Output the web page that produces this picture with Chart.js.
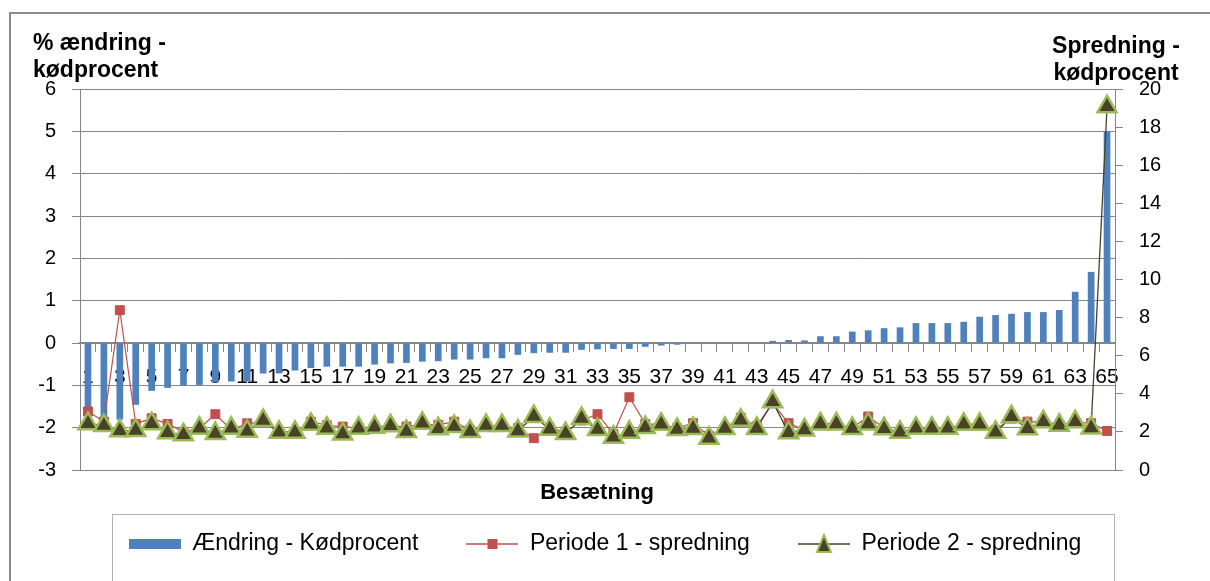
<!DOCTYPE html>
<html>
<head>
<meta charset="utf-8">
<script src="https://cdn.jsdelivr.net/npm/chart.js@4/dist/chart.umd.min.js"></script>
<style>
  html,body{margin:0;padding:0;background:#fff;}
  #wrap{position:relative;width:1210px;height:581px;overflow:hidden;font-family:"Liberation Sans",Arial,sans-serif;}
  #cv{position:absolute;left:0;top:0;}
  .frame{position:absolute;left:9px;top:12px;width:1220px;height:600px;border-left:2px solid #8a8a8a;border-top:2px solid #8a8a8a;}
  .legbox{position:absolute;left:112px;top:514px;width:1001px;height:90px;border:1px solid #b0b0b0;}
  .ttl{position:absolute;font-weight:bold;font-size:23px;line-height:27px;color:#000;}
  #tl{left:33px;top:29px;}
  #tr{left:1041px;top:32px;width:150px;text-align:center;}
  #xt{left:497px;top:478px;width:200px;text-align:center;font-size:22px;}
</style>
</head>
<body>
<div id="wrap">
  <div class="frame"></div>
  <div class="legbox"></div>
  <canvas id="cv" width="1210" height="581"></canvas>
  <div class="ttl" id="tl">% ændring -<br>kødprocent</div>
  <div class="ttl" id="tr">Spredning -<br>kødprocent</div>
  <div class="ttl" id="xt">Besætning</div>
</div>
<script>
// categories: besætning 1..65
const herds=[1,2,3,4,5,6,7,8,9,10,11,12,13,14,15,16,17,18,19,20,21,22,23,24,25,26,27,28,29,30,31,32,33,34,35,36,37,38,39,40,41,42,43,44,45,46,47,48,49,50,51,52,53,54,55,56,57,58,59,60,61,62,63,64,65];

// % ændring i kødprocent (left axis)
const change=[-1.6,-1.78,-1.81,-1.46,-1.13,-1.06,-1.01,-0.99,-0.93,-0.91,-0.91,-0.72,-0.72,-0.65,-0.59,-0.56,-0.56,-0.56,-0.51,-0.48,
  -0.47,-0.44,-0.43,-0.39,-0.39,-0.36,-0.36,-0.28,-0.24,-0.23,-0.23,-0.16,-0.15,-0.14,-0.14,-0.09,-0.06,-0.04,0,0,
  0,0,0,0.05,0.07,0.06,0.16,0.16,0.27,0.3,0.35,0.37,0.47,0.47,0.47,0.5,0.62,0.66,0.69,0.73,
  0.73,0.78,1.21,1.68,5.0];

// spredning (right axis)
const period1=[3.07,2.54,8.39,2.42,2.72,2.42,2.0,2.2,2.93,2.1,2.45,2.5,2.0,2.0,2.54,2.35,2.28,2.2,2.2,2.3,
  2.28,2.4,2.37,2.54,2.1,2.3,2.3,2.2,1.67,2.2,2.0,2.6,2.93,1.9,3.82,2.42,2.4,2.2,2.46,1.8,
  2.2,2.75,2.3,3.5,2.46,2.1,2.4,2.4,2.2,2.81,2.2,2.0,2.2,2.2,2.2,2.4,2.4,2.1,2.7,2.54,
  2.5,2.35,2.5,2.46,2.05];
const period2=[2.43,2.33,2.06,2.08,2.43,1.96,1.85,2.19,1.91,2.19,2.03,2.6,1.98,1.98,2.4,2.19,1.89,2.19,2.25,2.32,
  2.02,2.45,2.16,2.28,2.02,2.33,2.33,2.05,2.81,2.14,1.91,2.7,2.12,1.72,1.98,2.23,2.4,2.12,2.18,1.67,
  2.18,2.61,2.18,3.58,1.96,2.1,2.42,2.42,2.18,2.42,2.16,1.98,2.19,2.19,2.19,2.4,2.4,1.98,2.79,2.17,
  2.53,2.35,2.53,2.21,19.07];

const seriesNames=['Ændring - Kødprocent','Periode 1 - spredning','Periode 2 - spredning'];

const BLUE='#4F81BD', RED='#C0504D', OLIVE='#4A4228', GREENB='#9BBB59', LINE2='#45412a', GRID='#868686';
const FONT='"Liberation Sans", Arial, sans-serif';

// legend swatches (line + marker like the office legend)
function swatch(kind){
  const c=document.createElement('canvas');
  c.width=52; c.height=22;
  const g=c.getContext('2d');
  if(kind===0){g.fillStyle=BLUE;g.fillRect(0,6,52,10);}
  else if(kind===1){
    g.strokeStyle=RED;g.lineWidth=1.3;g.beginPath();g.moveTo(0,11);g.lineTo(52,11);g.stroke();
    g.fillStyle=RED;g.fillRect(21,6,10,10);
  } else {
    g.strokeStyle=LINE2;g.lineWidth=1.3;g.beginPath();g.moveTo(0,11);g.lineTo(52,11);g.stroke();
    g.fillStyle=OLIVE;g.strokeStyle=GREENB;g.lineWidth=2;
    g.beginPath();g.moveTo(26,2);g.lineTo(33,19);g.lineTo(19,19);g.closePath();g.fill();g.stroke();
  }
  return c;
}

new Chart(document.getElementById('cv'),{
  data:{
    labels:herds,
    datasets:[
      {type:'bar',label:seriesNames[0],data:change,yAxisID:'y',backgroundColor:BLUE,
        barPercentage:0.42,categoryPercentage:1,order:3},
      {type:'line',label:seriesNames[1],data:period1,yAxisID:'y1',borderColor:RED,borderWidth:1.2,
        pointStyle:'rect',pointRadius:6.3,pointBackgroundColor:RED,pointBorderColor:RED,pointBorderWidth:1,tension:0,order:2},
      {type:'line',label:seriesNames[2],data:period2,yAxisID:'y1',borderColor:LINE2,borderWidth:1.3,
        pointStyle:'triangle',pointRadius:11,pointBackgroundColor:OLIVE,pointBorderColor:GREENB,pointBorderWidth:2.5,tension:0,order:1}
    ]
  },
  options:{
    responsive:false,devicePixelRatio:1,animation:false,
    layout:{padding:{left:0,right:0,top:89,bottom:15.5}},
    plugins:{
      tooltip:{enabled:false},
      legend:{position:'bottom',
        title:{display:true,text:'',padding:{top:12.5,bottom:0},font:{size:2,lineHeight:1}},
        labels:{usePointStyle:true,pointStyleWidth:52,padding:48,color:'#000',font:{family:FONT,size:23},
          generateLabels:()=>seriesNames.map((t,i)=>({text:t,fontColor:'#000',pointStyle:swatch(i),fillStyle:'transparent',strokeStyle:'transparent',lineWidth:0,hidden:false,datasetIndex:i}))}
      }
    },
    scales:{
      x:{type:'category',position:{y:0},z:1,offset:true,
        grid:{drawOnChartArea:false,drawTicks:true,tickLength:8,color:GRID,offset:true},
        border:{display:true,color:GRID,width:2},
        ticks:{autoSkip:false,maxRotation:0,minRotation:0,padding:14,color:'#000',font:{family:FONT,size:21},
          callback:(v,i)=>i%2===0?String(herds[i]):''}},
      y:{position:'left',min:-3,max:6,
        ticks:{stepSize:1,padding:16,color:'#000',font:{family:FONT,size:20}},
        grid:{color:GRID,tickLength:8},border:{color:GRID,width:1},
        afterFit:s=>{s.width=80;}},
      y1:{position:'right',min:0,max:20,
        ticks:{stepSize:2,padding:16,color:'#000',font:{family:FONT,size:20}},
        grid:{drawOnChartArea:false,color:GRID,tickLength:8},border:{color:GRID,width:1},
        afterFit:s=>{s.width=95;}}
    }
  }
});
</script>
</body>
</html>
